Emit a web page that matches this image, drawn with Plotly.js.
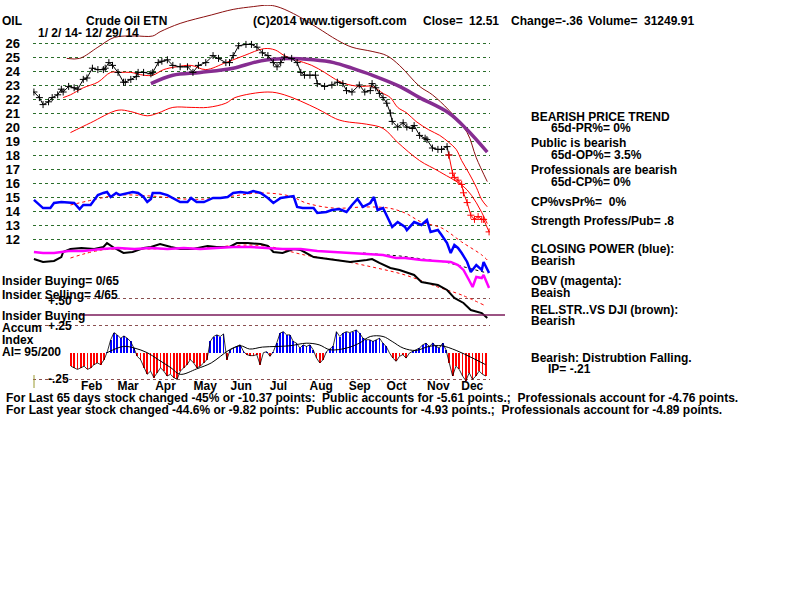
<!DOCTYPE html>
<html>
<head>
<meta charset="utf-8">
<script src="https://cdn.plot.ly/plotly-3.0.1.min.js"></script>
<style>html,body{margin:0;padding:0;background:#fff;}#chart{width:800px;height:600px;}</style>
</head>
<body>
<div id="chart"></div>
<script>
// ---------------- DATA ----------------
// x = trading-day number in 2014 (0 = Jan 2, 249 = Dec 29)
const monthDay   = [31.6, 51.5, 72, 93.7, 113.4, 133.8, 157.2, 178.2, 198.4, 221.3, 239.8];
const monthText  = ["Feb","Mar","Apr","May","Jun","Jul","Aug","Sep","Oct","Nov","Dec"];
const priceTicks = [12,13,14,15,16,17,18,19,20,21,22,23,24,25,26];

const priceDay   = [0,3,5,8,10,13,15,16,19,22,24,27,29,32,35,38,39,41,43,46,49,50,53,56,57,60,64,65,68,70,73,76,80,84,87,90,94,98,101,105,107,109,112,116,119,122,125,128,131,133,135,137,141,144,146,148,151,154,155,159,163,166,169,171,174,178,181,184,185,187,189,191,193,195,196,199,202,204,207,208,211,214,215,218,221,223,226,227];
const priceClose = [22.5,22.1,21.6,21.8,22.1,22.3,22.7,22.5,22.9,22.8,22.7,23.4,23.5,24.2,24.1,24.1,24.2,24.6,24.4,23.9,23.2,23.2,23.4,23.6,23.9,23.9,23.8,23.9,24.6,24.7,24.8,24.4,24.3,24.3,23.9,24.4,24.6,25.1,24.9,24.6,24.6,25.1,25.8,25.9,25.9,25.7,25.3,25.1,24.6,24.3,24.6,25.0,24.9,24.6,23.9,23.7,23.7,23.7,23.1,22.9,23.0,23.2,23.1,22.6,22.5,23.0,22.5,22.6,23.1,22.8,22.4,22.1,21.7,21.0,20.4,20.0,20.3,20.0,19.9,20.1,19.4,19.2,19.1,18.5,18.4,18.4,18.6,18.0];
const lateDay    = [229,230,232,234,235,237,239,241,243,245,246,249];
const lateClose  = [16.7,16.4,16.2,15.9,15.3,14.6,13.7,13.4,13.6,13.4,13.4,12.51];

const maDay      = [16,20,27,35,42,47,53,60,65,71,78,86,94,105,115,126,132,137,143,152,159,165,170,178,185,191,195,199,204,209,216,222,227,231,234,238,242,245,248];
const maValue    = [22.1,22.3,22.8,23.2,23.9,23.9,23.9,23.7,23.7,24.1,24.3,24.4,24.1,24.6,25.1,25.6,25.5,25.1,24.8,24.4,23.9,23.4,23.1,22.9,22.9,22.4,22.1,21.4,21.0,20.4,19.8,19.4,18.9,18.4,17.6,16.7,15.7,14.8,14.3];
const lowerDay   = [20,31,46,53,62,68,76,86,95,105,110,128,137,155,165,170,182,191,199,211,222,237,248];
const lowerValue = [19.6,20.3,21.2,21.1,20.8,21.0,21.4,21.4,21.4,21.7,22.1,22.5,22.3,21.3,20.6,20.4,20.2,19.9,18.9,17.6,16.8,15.5,13.1];
const upperDay   = [18,25,35,44,55,65,69,80,97,109,120,128,133,142,155,166,174,185,193,200,211,218,227,237,242,248];
const upperValue = [24.9,24.9,25.7,26.4,26.5,26.5,26.8,27.4,28.0,28.4,28.6,28.7,28.6,28.1,27.1,26.2,25.7,25.4,25.1,24.4,22.9,22.3,21.2,19.6,17.8,16.1];
const purpleDay  = [64,76,91,109,120,128,138,153,164,174,185,200,211,227,237,248];
const purpleValue= [23.1,23.7,23.9,24.2,24.6,24.8,24.9,24.8,24.6,24.2,23.7,22.9,22.1,21.0,19.8,18.2];

// indicator lines, drawn against the price scale as on the original chart
const cpDay      = [0,4,5,9,11,15,19,22,25,27,31,35,38,40,42,45,47,51,54,57,60,62,64,65,69,73,76,80,84,86,89,93,98,102,106,109,113,117,120,124,128,131,135,138,142,144,147,153,155,160,163,167,171,174,177,180,184,186,188,191,193,196,199,203,204,208,212,215,217,221,223,226,228,230,232,234,237,239,242,245,246,249];
const cpValue    = [14.79,14.29,14.21,14.21,14.57,14.64,14.57,14.57,14.14,14.43,14.43,15.14,15.29,15.36,15.0,15.29,15.14,15.29,15.36,15.29,15.0,14.64,14.86,15.29,15.29,15.14,14.93,14.64,14.64,14.93,14.64,14.64,14.93,14.93,15.0,15.29,15.36,15.29,15.43,15.29,14.93,14.57,14.93,15.0,15.07,14.29,14.21,14.21,13.86,13.93,14.07,14.14,13.93,14.43,14.86,14.29,14.57,15.0,14.07,14.21,13.71,12.86,13.21,12.86,12.64,13.21,13.0,13.36,12.5,12.64,12.29,11.71,11.0,11.57,11.36,11.0,10.36,9.64,10.14,9.79,10.36,9.57];
const cpMaDay    = [20,37,46,64,82,95,109,124,140,149,164,182,194,203,212,223,234,245,248];
const cpMaValue  = [14.43,14.93,15.14,15.07,14.86,14.86,15.07,15.29,15.07,14.57,14.21,14.29,14.21,13.86,13.21,12.79,11.79,10.86,10.5];
const obvDay     = [0,5,11,19,27,37,46,55,64,73,82,91,100,109,118,128,136,146,155,164,173,182,191,198,203,212,221,228,232,235,238,240,242,245,246,249];
const obvValue   = [11.07,11.0,11.0,11.14,11.14,11.29,11.36,11.29,11.36,11.29,11.36,11.29,11.36,11.43,11.43,11.36,11.29,11.29,11.14,11.07,11.0,10.93,10.86,10.64,10.64,10.5,10.43,10.36,10.14,9.79,9.07,8.57,9.29,9.21,9.43,8.5];
const obvMaDay   = [180,200,225,248];
const obvMaValue = [11.0,10.79,10.36,9.57];
const rsDay      = [0,5,11,15,16,20,26,33,38,40,44,49,54,60,64,69,75,80,87,95,100,107,111,117,124,128,131,136,142,146,153,162,173,182,185,189,195,200,203,208,212,221,226,230,235,239,245,248];
const rsValue    = [10.57,10.36,10.43,10.71,11.07,11.29,11.36,11.29,11.43,11.71,11.36,11.0,11.07,11.36,11.43,11.64,11.43,11.29,11.29,11.5,11.43,11.43,11.71,11.71,11.64,11.5,11.07,11.0,11.29,11.21,10.71,10.57,10.36,10.5,10.57,10.29,9.93,9.79,9.64,9.43,8.93,8.71,8.36,7.79,7.43,6.93,6.71,6.36];
const rsMaDay    = [20,37,64,91,118,130,148,166,185,203,221,234,246];
const rsMaValue  = [10.64,11.21,11.29,11.36,11.57,11.43,10.86,10.5,10.0,9.43,8.57,8.0,7.29];

// Accumulation index (lower panel)
const aiStartDay = 20.2, aiStepDays = 1.816;
const aiValue = [-0.125,-0.14,-0.155,-0.14,-0.125,-0.155,-0.14,-0.11,-0.095,-0.11,-0.065,0.01,
  0.12,0.186,0.165,0.134,0.155,0.134,0.104,0.043,
  -0.034,-0.064,-0.14,-0.2,-0.17,-0.23,-0.186,-0.14,-0.17,-0.216,-0.2,-0.23,-0.247,-0.17,-0.14,-0.11,-0.064,-0.095,-0.14,-0.125,-0.095,-0.064,
  0.104,0.15,0.165,0.15,0.174,
  -0.064,0.027,0.043,0.064,0.073,0.012,
  -0.018,-0.027,-0.027,-0.018,-0.11,0.0,0.01,-0.034,0.01,
  0.088,0.18,0.195,0.165,0.165,0.104,0.088,0.043,0.073,0.058,0.073,0.027,
  -0.05,-0.095,-0.064,0.01,0.034,
  0.058,0.195,0.15,0.18,0.195,0.186,0.195,0.21,0.18,0.134,0.12,0.12,0.104,0.12,0.134,0.088,0.058,
  -0.003,-0.05,-0.08,-0.034,-0.018,-0.05,-0.003,
  0.012,0.027,0.043,0.073,0.088,0.058,0.088,0.058,0.043,0.088,0.027,
  -0.095,-0.216,-0.125,-0.155,-0.216,-0.26,-0.186,-0.247,-0.216,-0.17,-0.2,-0.216];
const aiMaDay   = [40,49,55,62,68,75,80,89,97,102,107,113,118,125,133,140,149,156,162,171,178,184,191,196,202,209,216,223,231,240,247];
const aiMaValue = [0.0,0.058,0.043,0.0,-0.064,-0.14,-0.2,-0.15,-0.095,-0.034,0.027,0.064,0.034,0.052,0.058,0.064,0.088,0.073,0.027,0.043,0.088,0.15,0.15,0.104,0.043,0.021,0.058,0.064,0.021,-0.05,-0.11];
const aiGridLevels = [-0.25, 0.25, 0.5];
const insiderBuyingLevel = 0.35;

// ---------------- TEXTS ----------------
const topTexts = [
  ["OIL", 1, 21], ["Crude Oil ETN", 85, 21], ["(C)2014 www.tigersoft.com", 252, 21],
  ["Close=", 422, 21], ["12.51", 468, 21], ["Change=-.36", 510, 21], ["Volume=", 587, 21], ["31249.91", 643, 21],
  ["1/ 2/ 14- 12/ 29/ 14", 37, 33]
];
const sideTexts = [
  ["BEARISH PRICE TREND", 530, 117], ["65d-PR%= 0%", 550, 128],
  ["Public is bearish", 530, 143], ["65d-OP%= 3.5%", 550, 155],
  ["Professionals are bearish", 530, 170], ["65d-CP%= 0%", 550, 182],
  ["CP%vsPr%=\u00a0\u00a00%", 530, 202], ["Strength Profess/Pub= .8", 530, 221],
  ["CLOSING POWER (blue):", 530, 249], ["Bearish", 530, 261],
  ["OBV (magenta):", 530, 281], ["Beaish", 530, 293],
  ["REL.STR..VS DJI (brown):", 530, 310], ["Bearish", 530, 321],
  ["Bearish: Distrubtion Falling.", 530, 358], ["IP= -.21", 547, 369]
];
const leftTexts = [
  ["Insider Buying= 0/65", 1, 281], ["Insider Selling= 4/65", 1, 295], ["+.50", 47, 301],
  ["Insider Buying", 1, 316], ["Accum", 1, 328], ["+.25", 47, 326], ["Index", 1, 340],
  ["AI= 95/200", 1, 352], ["-.25", 47, 379]
];
const bottomTexts = [
  ["For Last 65 days stock changed -45% or -10.37 points:\u00a0\u00a0Public accounts for -5.61 points.;\u00a0\u00a0Professionals account for -4.76 points.", 5, 398],
  ["For Last year stock changed -44.6% or -9.82 points:\u00a0\u00a0Public accounts for -4.93 points.;\u00a0\u00a0Professionals account for -4.89 points.", 5, 410]
];

// ---------------- LAYOUT HELPERS ----------------
const PX0 = 33, PX1 = 490, PY0 = 5, PY1 = 384;          // plot area in page pixels
const px = x => (x - PX0) / (PX1 - PX0);
const py = y => (PY1 - y) / (PY1 - PY0);
const FONT = "Liberation Sans, Arial, sans-serif";
const PRICE_TOP = 26 + (43 - PY0) / 14, PRICE_BOT = 26 - (PY1 - 43) / 14;   // 14 px per dollar, 26 at y=43
const AI_TOP = (352.7 - PY0) / 108, AI_BOT = -(PY1 - 352.7) / 108;           // 108 px per unit

const aiDay = aiValue.map((v, i) => aiStartDay + i * aiStepDays);
const aiColor = aiValue.map(v => v >= 0 ? "#0000ff" : "#ff0000");

function ann(t, size) {
  return { xref: "paper", yref: "paper", x: px(t[1]), y: py(t[2]), text: t[0], showarrow: false,
           xanchor: "left", yanchor: "middle", borderpad: 0,
           font: { family: FONT, size: size || 12, color: "#000", weight: "bold" } };
}
const annotations = [].concat(topTexts.map(t => ann(t)), sideTexts.map(t => ann(t)),
                              leftTexts.map(t => ann(t)), bottomTexts.map(t => ann(t)));

const L = (x, y, color, width, extra) => Object.assign({ type: "scatter", mode: "lines", x, y,
  line: { color, width }, hoverinfo: "skip" }, extra || {});

const traces = [
  { type: "bar", x: aiDay, y: aiValue, yaxis: "y2", width: 1.0, marker: { color: aiColor, line: { width: 0 } }, hoverinfo: "skip" },
  L(aiDay, aiValue, "#000", 0.8, { yaxis: "y2" }),
  L(aiMaDay, aiMaValue, "#000", 1, { yaxis: "y2", line: { color: "#000", width: 1, shape: "spline" } }),
  L(upperDay, upperValue, "#8b1010", 1, { line: { color: "#8b1010", width: 1, shape: "spline" } }),
  L(lowerDay, lowerValue, "#ff0000", 1, { line: { color: "#ff0000", width: 1, shape: "spline" } }),
  L(maDay, maValue, "#ff0000", 1, { line: { color: "#ff0000", width: 1, shape: "spline" } }),
  L(purpleDay, purpleValue, "#862d91", 3.5, { line: { color: "#862d91", width: 3.5, shape: "spline" } }),
  L(cpMaDay, cpMaValue, "#ff0000", 1, { line: { color: "#ff0000", width: 1, dash: "dot", shape: "spline" } }),
  L(rsMaDay, rsMaValue, "#ff0000", 1, { line: { color: "#ff0000", width: 1, dash: "dot", shape: "spline" } }),
  L(obvMaDay, obvMaValue, "#000", 1, { line: { color: "#000", width: 1, dash: "dot" } }),
  L(rsDay, rsValue, "#000", 2),
  L(obvDay, obvValue, "#ff00ff", 2.5),
  L(cpDay, cpValue, "#0000ff", 2.5),
  L(priceDay, priceClose, "#000", 1, { mode: "lines+markers",
      marker: { symbol: "cross-thin-open", size: 5, color: "#000", line: { color: "#000", width: 1 } } }),
  L([priceDay[priceDay.length - 1]].concat(lateDay), [priceClose[priceClose.length - 1]].concat(lateClose), "#ff0000", 1,
    { mode: "lines+markers", marker: { symbol: "cross-thin-open", size: 5, color: "#ff0000", line: { color: "#ff0000", width: 1 } } })
];

const layout = {
  width: 800, height: 600, paper_bgcolor: "#fff", plot_bgcolor: "#fff", showlegend: false,
  margin: { l: PX0, r: 800 - PX1, t: PY0, b: 600 - PY1, pad: 0 },
  bargap: 0,
  xaxis: { range: [-0.5, 249.5], tickvals: monthDay, ticktext: monthText, showgrid: false, zeroline: false,
           showline: false, ticks: "", anchor: "free", position: py(377),
           tickfont: { family: FONT, size: 12, color: "#000", weight: "bold" } },
  yaxis: { range: [PRICE_BOT, PRICE_TOP], tickvals: priceTicks, showgrid: true, gridcolor: "#2b6e2b",
           griddash: "dot", gridwidth: 1, zeroline: false, showline: false, ticks: "", ticklabelstandoff: 12,
           tickfont: { family: FONT, size: 13, color: "#000", weight: "bold" } },
  yaxis2: { range: [AI_BOT, AI_TOP], overlaying: "y", tickvals: aiGridLevels, showticklabels: false,
            showgrid: true, gridcolor: "#8a5050", griddash: "dot", gridwidth: 1, zeroline: false, showline: false },
  shapes: [
    { type: "line", xref: "paper", yref: "y2", x0: px(80), x1: px(505), y0: insiderBuyingLevel, y1: insiderBuyingLevel,
      line: { color: "#7a1a5a", width: 1.5 } },
    { type: "line", xref: "paper", yref: "paper", x0: px(34), x1: px(34), y0: py(375), y1: py(388),
      line: { color: "#9a9a30", width: 1 } }
  ],
  annotations
};

Plotly.newPlot("chart", traces, layout, { staticPlot: true, displayModeBar: false });
</script>
</body>
</html>
